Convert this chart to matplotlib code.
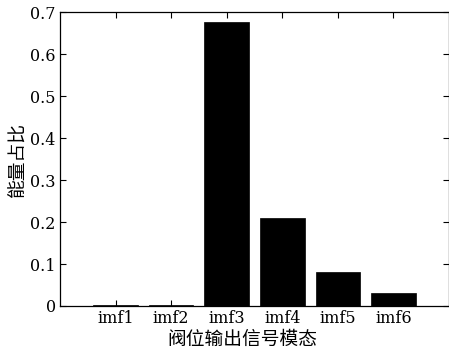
import matplotlib
matplotlib.use("Agg")
import matplotlib.pyplot as plt
from matplotlib.ticker import FixedLocator, FuncFormatter

# Energy share of each IMF component of the valve position output
modes = ["imf1", "imf2", "imf3", "imf4", "imf5", "imf6"]
energy_ratio = [0.002, 0.002, 0.677, 0.210, 0.081, 0.032]
y_ticks = [0, 0.1, 0.2, 0.3, 0.4, 0.5, 0.6, 0.7]

cjk = ["Noto Sans CJK SC", "DejaVu Sans"]
tick_font = "DejaVu Serif"

fig = plt.figure(figsize=(4.49, 3.5), dpi=100)
ax = fig.add_axes([60 / 449, 1 - 306 / 350, 389 / 449, (306 - 12.4) / 350])

x = list(range(1, len(modes) + 1))
ax.bar(x, energy_ratio, width=0.8, color="black", edgecolor="black", linewidth=0.5)

ax.set_xlim(0, 7)
ax.set_ylim(0, 0.7)
ax.xaxis.set_major_locator(FixedLocator(x))
ax.set_xticklabels(modes)
ax.yaxis.set_major_locator(FixedLocator(y_ticks))
ax.yaxis.set_major_formatter(FuncFormatter(lambda v, p: "0" if abs(v) < 1e-9 else f"{v:.1f}"))

ax.tick_params(direction="in", top=True, right=True, length=4.5, width=0.8,
               labelsize=11.5, pad=3, colors="black")
for lab in ax.get_xticklabels() + ax.get_yticklabels():
    lab.set_fontfamily(tick_font)

for s in ax.spines.values():
    s.set_linewidth(0.9)

ax.set_xlabel("阀位输出信号模态", fontsize=13.5, family=cjk, fontweight="medium")
ax.set_ylabel("能量占比", fontsize=13.5, family=cjk, fontweight="medium")
ax.xaxis.set_label_coords(0.469, -0.078)
ax.yaxis.set_label_coords(-0.082, 0.5)

fig.savefig("out.png", dpi=100)
